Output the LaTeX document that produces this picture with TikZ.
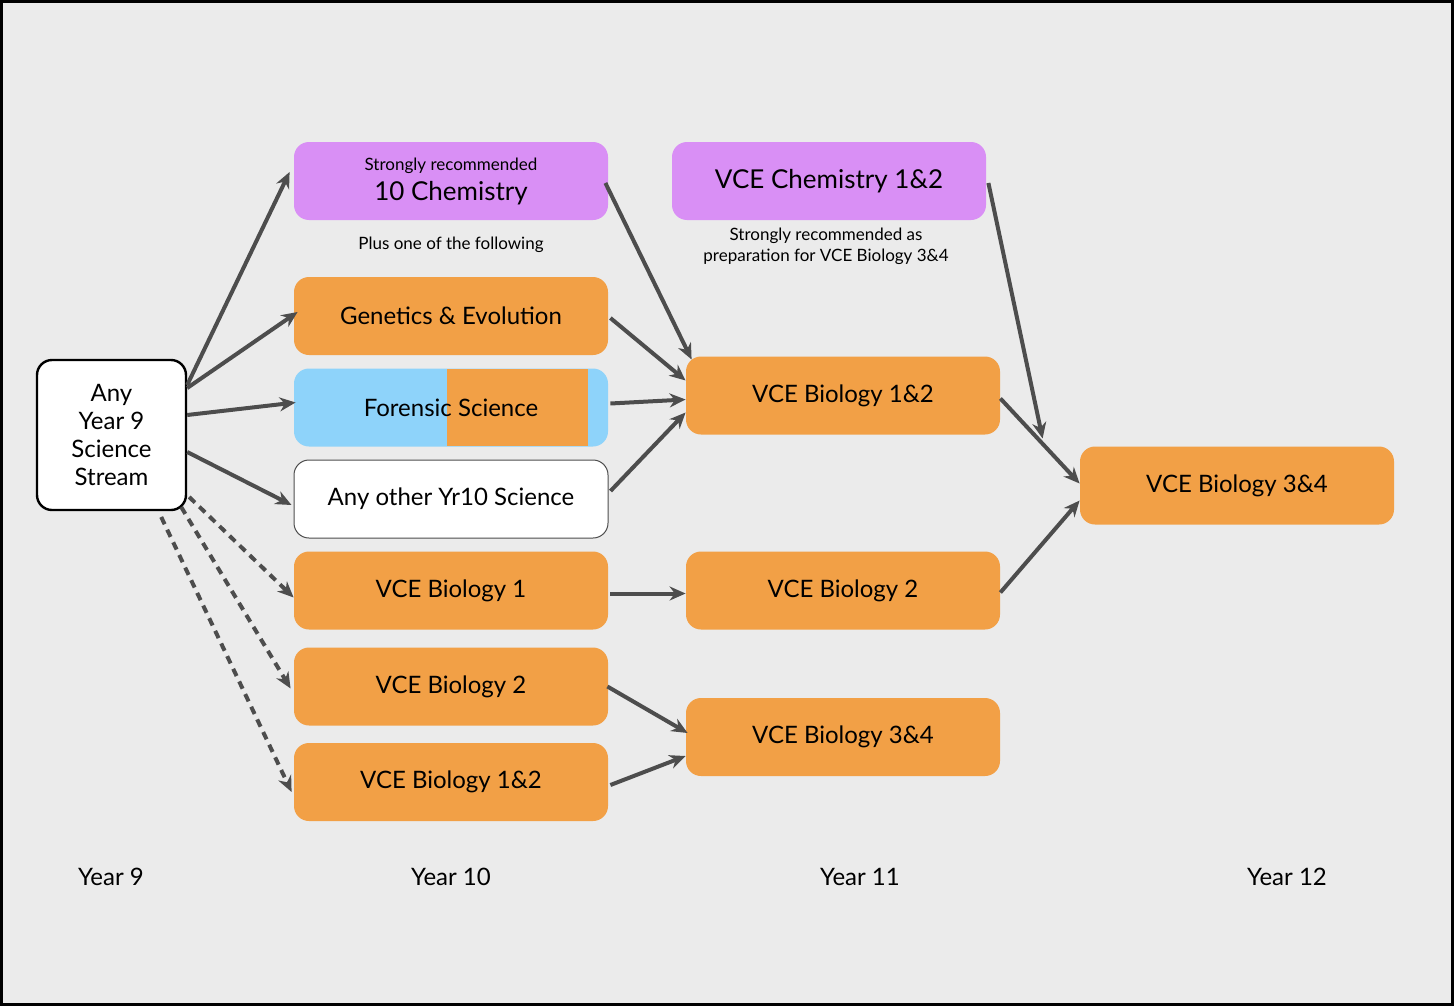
\documentclass[tikz,border=0pt]{standalone}
\usepackage{fontspec}
\setmainfont{Lato}
\usetikzlibrary{arrows.meta,calc}
\definecolor{bg}{HTML}{EBEBEB}
\definecolor{org}{HTML}{F2A046}
\definecolor{pur}{HTML}{D98FF5}
\definecolor{blu}{HTML}{8ED3FA}
\definecolor{arr}{HTML}{4D4D4D}
\begin{document}
\begin{tikzpicture}[x=0.5pt,y=-0.5pt,
  box/.style={rounded corners=7.5pt,minimum width=157pt,minimum height=39pt,inner sep=0pt,font=\fontsize{12}{14}\selectfont,draw=none},
  ob/.style={box,fill=org},
  ar/.style={draw=arr,line width=2pt,-{Stealth[length=8pt,width=7pt]}},
  da/.style={ar,dash pattern=on 4pt off 3pt},
  lab/.style={font=\fontsize{12}{14}\selectfont}]
\useasboundingbox (0,0) rectangle (1454,1006);
\fill[bg] (0,0) rectangle (1454,1006);
\draw[black,line width=1.5pt] (1.5,1.5) rectangle (1452.5,1004.5);
% Year 9
\node[box,fill=white,draw=black,line width=1.2pt,minimum width=74.5pt,minimum height=75pt,align=center] (y9) at (111.5,435) {Any\\Year 9\\Science\\Stream};
% Year 10
\node[box,fill=pur,align=center] (chem10) at (451,181) {{\fontsize{8.5}{10}\selectfont Strongly recommended}\\[1pt]{\fontsize{13}{15}\selectfont 10 Chemistry}};
\node[font=\fontsize{8.5}{10}\selectfont] (plus) at (451,245) {Plus one of the following};
\node[ob] (gen) at (451,316) {Genetics \& Evolution};
\node[box,fill=blu] (for) at (451,407.5) {};
\fill[org] (447,369) rectangle (588,446);
\node[lab] (fort) at (451,407.5) {Forensic Science};
\node[box,fill=white,draw=arr,line width=0.5pt] (oth) at (451,499) {Any other Yr10 Science};
\node[ob] (b1) at (451,590.5) {VCE Biology 1};
\node[ob] (b2) at (451,686.5) {VCE Biology 2};
\node[ob] (b12) at (451,782) {VCE Biology 1\&2};
% Year 11
\node[box,fill=pur,font=\fontsize{13}{15}\selectfont] (chem11) at (829,181) {VCE Chemistry 1\&2};
\node[font=\fontsize{8.5}{10.5}\selectfont,align=center] (rec) at (826,246) {Strongly recommended as\\preparation for VCE Biology 3\&4};
\node[ob] (c12) at (843,395.5) {VCE Biology 1\&2};
\node[ob] (c2) at (843,590.5) {VCE Biology 2};
\node[ob] (c34) at (843,737) {VCE Biology 3\&4};
% Year 12
\node[ob] (d34) at (1237,485.5) {VCE Biology 3\&4};
% Year labels
\node[lab] (l9) at (111,877) {Year 9};
\node[lab] (l10) at (451,877) {Year 10};
\node[lab] (l11) at (860,877) {Year 11};
\node[lab] (l12) at (1287,877) {Year 12};
% arrows
\draw[ar] ([shift={(0,-50)}]y9.east) -- ([shift={(-4,-9)}]chem10.west);
\draw[ar] ([shift={(0,-47)}]y9.east) -- ([shift={(4,-4)}]gen.west);
\draw[ar] ([shift={(0,-20)}]y9.east) -- ([shift={(2,-5)}]for.west);
\draw[ar] ([shift={(0,17)}]y9.east) -- ([shift={(-2,6)}]oth.west);
\draw[da] ([shift={(2,62)}]y9.east) -- ([shift={(0,7)}]b1.west);
\draw[da] ([shift={(-6,72)}]y9.east) -- ([shift={(-3,2)}]b2.west);
\draw[da] ([shift={(-26,82)}]y9.east) -- ([shift={(-2,10)}]b12.west);
\draw[ar] ([shift={(-3,2)}]chem10.east) -- ([shift={(6,-36)}]c12.west);
\draw[ar] ([shift={(2,2)}]gen.east) -- ([shift={(0,-15)}]c12.west);
\draw[ar] ([shift={(2,-4)}]for.east) -- ([shift={(0,4)}]c12.west);
\draw[ar] ([shift={(2,-8)}]oth.east) -- ([shift={(0,17)}]c12.west);
\draw[ar] ([shift={(2,3)}]b1.east) -- ([shift={(0,3)}]c2.west);
\draw[ar] ([shift={(-1,0)}]b2.east) -- ([shift={(2,-4)}]c34.west);
\draw[ar] ([shift={(2,3)}]b12.east) -- ([shift={(0,19)}]c34.west);
\draw[ar] ([shift={(2,2)}]chem11.east) -- ([shift={(-37,-47)}]d34.west);
\draw[ar] ([shift={(0,3)}]c12.east) -- ([shift={(0,-2)}]d34.west);
\draw[ar] ([shift={(0,2)}]c2.east) -- ([shift={(0,15)}]d34.west);
\end{tikzpicture}
\end{document}
